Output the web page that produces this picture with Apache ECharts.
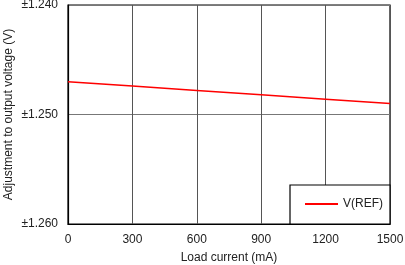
<!DOCTYPE html>
<html><head><meta charset="utf-8">
<script src="https://cdn.jsdelivr.net/npm/echarts@6/dist/echarts.min.js"></script>
<style>html,body{margin:0;padding:0;background:#fff}#c{width:405px;height:265px}</style>
</head><body><div id="c"></div>
<script>
const loadCurrent = [0, 300, 600, 900, 1200, 1500];
const vref = [1.2470, 1.2474, 1.2478, 1.2482, 1.2486, 1.2490];
const xTicks = [0, 300, 600, 900, 1200, 1500];
const yTicks = [1.240, 1.250, 1.260];
const seriesName = 'V(REF)';

const chart = echarts.init(document.getElementById('c'));
const font = 'Liberation Sans, Arial, sans-serif';
chart.setOption({
  animation: false,
  textStyle: { fontFamily: font },
  grid: { left: 68, right: 15, top: 5, bottom: 41, show: true, borderColor: '#000', borderWidth: 1.2,
    containLabel: false, outerBoundsMode: 'none' },
  xAxis: {
    type: 'value', min: xTicks[0], max: xTicks[xTicks.length - 1], interval: 300,
    name: 'Load current (mA)', nameLocation: 'middle', nameGap: 28, nameMoveOverlap: false,
    nameTextStyle: { fontSize: 12, color: '#222', fontFamily: font },
    axisLine: { lineStyle: { color: '#000', width: 1.2 } },
    axisTick: { show: false },
    axisLabel: { fontSize: 12, color: '#222', margin: 10, fontFamily: font, formatter: v => String(v) },
    splitLine: { show: true, lineStyle: { color: '#555', width: 1 } }
  },
  yAxis: {
    type: 'value', min: yTicks[0], max: yTicks[yTicks.length - 1], interval: 0.01, inverse: true,
    name: 'Adjustment to output voltage (V)', nameLocation: 'middle', nameGap: 53, nameMoveOverlap: false,
    nameTextStyle: { fontSize: 12, color: '#222', fontFamily: font },
    axisLine: { show: true, lineStyle: { color: '#000', width: 1.2 } },
    axisTick: { show: false },
    axisLabel: { fontSize: 12, color: '#222', margin: 10, fontFamily: font,
      formatter: v => '±' + v.toFixed(3) },
    splitLine: { show: true, lineStyle: { color: '#777', width: 1 } }
  },
  legend: {
    right: 15, bottom: 41, orient: 'vertical',
    backgroundColor: '#fff', borderColor: '#000', borderWidth: 1.2, borderRadius: 0,
    padding: [13, 7, 14, 15],
    itemWidth: 33, itemHeight: 2, itemGap: 4,
    textStyle: { fontSize: 12, color: '#222', fontFamily: font },
    data: [{ name: seriesName, icon: 'rect' }]
  },
  series: [{
    name: seriesName, type: 'line', symbol: 'none',
    data: loadCurrent.map((x, i) => [x, vref[i]]),
    lineStyle: { color: '#ff0000', width: 1.5 },
    itemStyle: { color: '#ff0000' }
  }]
});
</script></body></html>
